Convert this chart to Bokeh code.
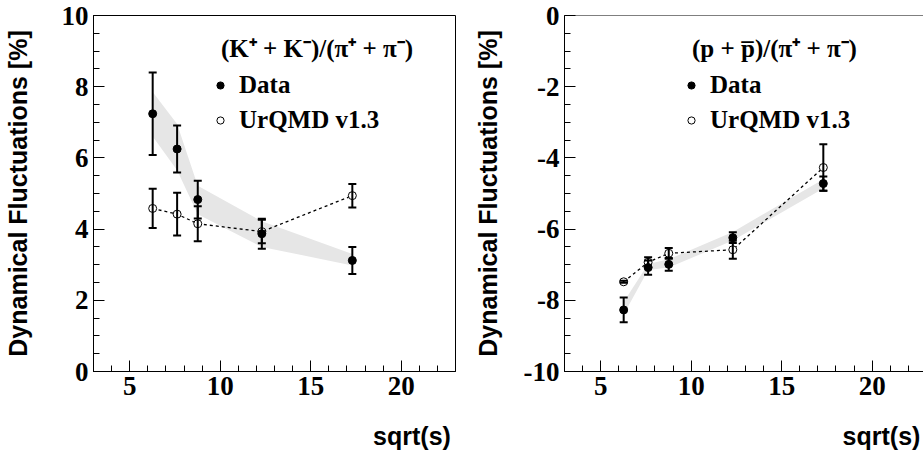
from bokeh.plotting import figure
from bokeh.layouts import row
from bokeh.models import (ColumnDataSource, Whisker, TeeHead, Legend, LegendItem,
                          Span, SingleIntervalTicker, Range1d, PrintfTickFormatter)
from bokeh.embed import file_html
from bokeh.resources import INLINE
import numpy as np

# ---------------- data ----------------
sqrt_s = [6.27, 7.62, 8.76, 12.3, 17.3]

# (K+ + K-)/(pi+ + pi-)
kpi_data = [7.24, 6.25, 4.83, 3.87, 3.12]
kpi_data_err = [1.16, 0.66, 0.53, 0.42, 0.38]
kpi_urqmd = [4.58, 4.42, 4.15, 3.93, 4.94]
kpi_urqmd_err = [0.55, 0.60, 0.49, 0.33, 0.33]
kpi_sys_hi = [7.85, 6.95, 5.22, 4.22, 3.30]
kpi_sys_lo = [6.60, 5.65, 4.42, 3.50, 2.98]

# (p + pbar)/(pi+ + pi-)
ppi_data = [-8.27, -7.08, -6.99, -6.24, -4.72]
ppi_data_err = [0.35, 0.20, 0.18, 0.15, 0.20]
ppi_urqmd = [-7.48, -6.93, -6.68, -6.58, -4.27]
ppi_urqmd_err = [0.03, 0.14, 0.15, 0.25, 0.65]
ppi_sys_hi = [-8.05, -6.98, -6.85, -6.08, -4.60]
ppi_sys_lo = [-8.40, -7.15, -7.08, -6.32, -4.86]

kpi_title = "(K\u207A + K\u207B)/(\u03C0\u207A + \u03C0\u207B)"
ppi_title = "(p + p\u0305)/(\u03C0\u207A + \u03C0\u207B)"
y_title = "Dynamical Fluctuations [%]"
x_title = "sqrt(s)"
legend_labels = ["Data", "UrQMD v1.3"]

SERIF = "Liberation Serif"
SANS = "Liberation Sans"

FIG_H = 459
TOP = 15
FRAME_H = 356
BOTTOM = FIG_H - TOP - FRAME_H


def make_panel(width, left, right, x_end, y_range, data, derr, urq, uerr, lo, hi,
               title, ylabel_standoff, outline=True):
    p = figure(width=width, height=FIG_H, output_backend="svg", toolbar_location=None,
               x_range=Range1d(3, x_end), y_range=Range1d(*y_range),
               min_border_left=left, min_border_right=right,
               min_border_top=TOP, min_border_bottom=BOTTOM)
    p.background_fill_color = "white"
    p.border_fill_color = "white"
    p.xgrid.visible = False
    p.ygrid.visible = False
    if outline:
        p.outline_line_color = "black"
        p.outline_line_width = 1
        p.outline_line_alpha = 1
    else:
        p.outline_line_color = None
        p.add_layout(Span(location=y_range[1], dimension="width",
                          line_color="black", line_width=1))

    p.xaxis.ticker = SingleIntervalTicker(interval=5, num_minor_ticks=5)
    p.yaxis.ticker = SingleIntervalTicker(interval=2, num_minor_ticks=4)
    p.xaxis.formatter = PrintfTickFormatter(format="%d")
    p.yaxis.formatter = PrintfTickFormatter(format="%d")
    for ax in (p.xaxis[0], p.yaxis[0]):
        ax.axis_line_color = "black"
        ax.major_tick_line_color = "black"
        ax.minor_tick_line_color = "black"
        ax.major_tick_in = 11
        ax.major_tick_out = 0
        ax.minor_tick_in = 6
        ax.minor_tick_out = 0
        ax.major_label_text_font = SERIF
        ax.major_label_text_font_style = "bold"
        ax.major_label_text_font_size = "27px"
        ax.major_label_text_color = "black"
        ax.major_label_standoff = 5
        ax.axis_label_text_font = SANS
        ax.axis_label_text_font_style = "bold"
        ax.axis_label_text_font_size = "25px"
        ax.axis_label_text_color = "black"
    p.yaxis.axis_label = y_title
    p.yaxis.axis_label_standoff = ylabel_standoff

    # x-axis title pushed to the right end (leading em spaces), as in the original
    p.xaxis.axis_label = "\u2003" * 11 + x_title
    p.xaxis.axis_label_standoff = 24

    # systematic band
    p.varea(x=sqrt_s, y1=lo, y2=hi, fill_color="#e6e6e6", level="underlay")

    d = np.array(data)
    de = np.array(derr)
    u = np.array(urq)
    ue = np.array(uerr)
    src_d = ColumnDataSource(dict(x=sqrt_s, y=data, up=d + de, dn=d - de))
    src_u = ColumnDataSource(dict(x=sqrt_s, y=urq, up=u + ue, dn=u - ue))

    for src in (src_u, src_d):
        w = Whisker(source=src, base="x", upper="up", lower="dn", dimension="height",
                    line_color="black", line_width=2, level="glyph",
                    upper_head=TeeHead(size=8, line_color="black", line_width=2),
                    lower_head=TeeHead(size=8, line_color="black", line_width=2))
        p.add_layout(w)

    p.line("x", "y", source=src_u, line_color="black", line_width=1.3, line_dash="3 3")
    r_u = p.scatter("x", "y", source=src_u, marker="circle", size=8,
                    fill_color="white", line_color="black", line_width=1)
    r_d = p.scatter("x", "y", source=src_d, marker="circle", size=8,
                    fill_color="black", line_color="black")

    legend = Legend(items=[LegendItem(label=legend_labels[0], renderers=[r_d]),
                           LegendItem(label=legend_labels[1], renderers=[r_u])],
                    title="\u2009\u2009" + title, location=(118, 237),
                    border_line_color=None, background_fill_alpha=0,
                    padding=0, margin=0, spacing=6,
                    glyph_width=18, glyph_height=18, label_height=29,
                    label_standoff=10, title_standoff=6,
                    label_text_font=SERIF, label_text_font_style="bold",
                    label_text_font_size="25px", label_text_color="black",
                    title_text_font=SERIF, title_text_font_style="bold",
                    title_text_font_size="25px", title_text_color="black")
    p.add_layout(legend)
    return p


p1 = make_panel(470, 91, 15, 23, (0, 10), kpi_data, kpi_data_err, kpi_urqmd, kpi_urqmd_err,
                kpi_sys_lo, kpi_sys_hi, kpi_title, 27)
p2 = make_panel(453, 92, 0, 3 + 361 / 18.2, (-10, 0), ppi_data, ppi_data_err, ppi_urqmd,
                ppi_urqmd_err, ppi_sys_lo, ppi_sys_hi, ppi_title, 19, outline=False)

layout = row(p1, p2)
open("out.html", "w").write(file_html(layout, INLINE))
